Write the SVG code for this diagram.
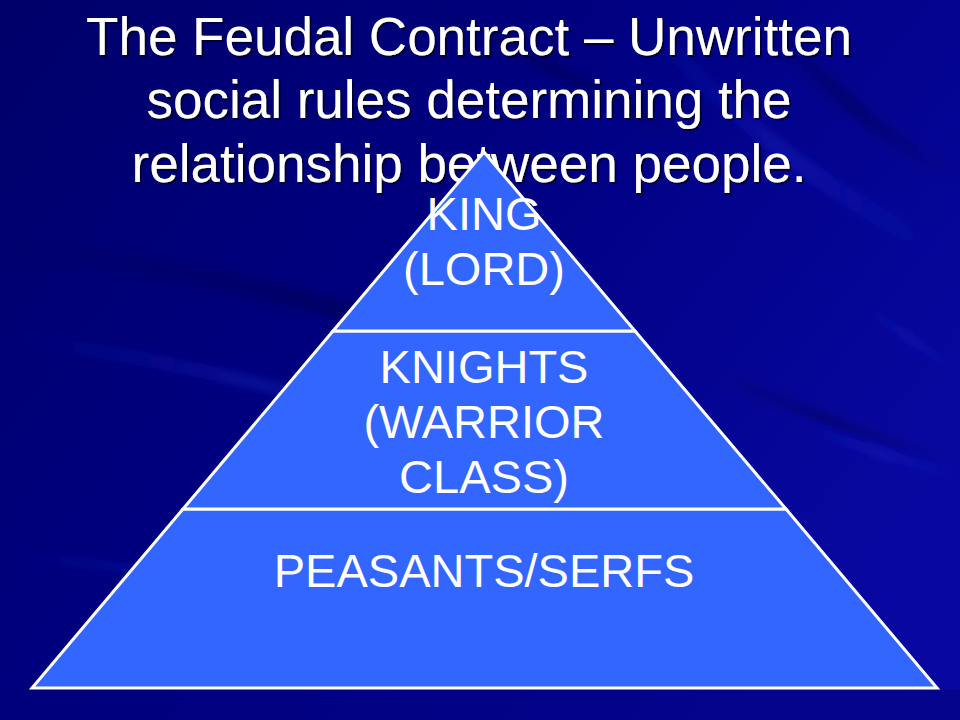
<svg xmlns="http://www.w3.org/2000/svg" width="960" height="720" viewBox="0 0 960 720">
<defs>
<linearGradient id="bg" x1="0" y1="0" x2="1" y2="0.6">
<stop offset="0" stop-color="#00006a"/>
<stop offset="0.5" stop-color="#000082"/>
<stop offset="1" stop-color="#0808a0"/>
</linearGradient>
<linearGradient id="streakL" x1="0" y1="0" x2="1" y2="0">
<stop offset="0" stop-color="#1a2ad0" stop-opacity="0"/>
<stop offset="0.5" stop-color="#1a2ad0" stop-opacity="0.3"/>
<stop offset="1" stop-color="#1a2ad0" stop-opacity="0"/>
</linearGradient>
<linearGradient id="streakD" x1="0" y1="0" x2="1" y2="0">
<stop offset="0" stop-color="#000040" stop-opacity="0"/>
<stop offset="0.5" stop-color="#000040" stop-opacity="0.4"/>
<stop offset="1" stop-color="#000040" stop-opacity="0"/>
</linearGradient>
<filter id="blur" x="-10%" y="-10%" width="120%" height="120%"><feGaussianBlur stdDeviation="4"/></filter>
<filter id="shadow" x="-5%" y="-20%" width="110%" height="140%">
<feDropShadow dx="2" dy="2" stdDeviation="0.6" flood-color="#000022" flood-opacity="0.8"/>
</filter>
<style>
.title{font-family:"Liberation Sans",Arial,sans-serif;font-size:53px;text-anchor:middle;fill:#ffffff;}
.lvl{fill:#3366ff;stroke:#ffffff;stroke-width:3;stroke-linejoin:miter;}
.lbl{font-family:"Liberation Sans",Arial,sans-serif;font-size:47px;fill:#ffffff;text-anchor:middle;}
</style>
</defs>
<g id="background">
<rect x="0" y="0" width="960" height="720" fill="url(#bg)"/>
<g filter="url(#blur)">
<path d="M0,240 Q300,260 700,420 L700,440 Q300,285 0,255 Z" fill="url(#streakD)"/>
<path d="M0,330 Q260,360 520,460 L520,470 Q260,375 0,345 Z" fill="url(#streakL)"/>
<path d="M0,550 Q200,565 420,620 L420,628 Q200,575 0,560 Z" fill="url(#streakL)"/>
<path d="M420,0 Q560,60 700,140 L690,150 Q550,70 400,0 Z" fill="url(#streakD)"/>
<path d="M640,0 Q760,150 960,250 L960,270 Q750,170 620,0 Z" fill="url(#streakL)"/>
<path d="M760,0 Q860,120 960,170 L960,185 Q850,135 740,0 Z" fill="url(#streakD)"/>
<path d="M800,420 Q880,450 960,470 L960,480 Q880,462 800,430 Z" fill="url(#streakL)"/>
<path d="M860,300 Q910,330 960,370 L960,380 Q910,342 860,310 Z" fill="url(#streakL)"/>
<path d="M700,360 Q830,420 960,460 L960,470 Q830,432 700,370 Z" fill="url(#streakD)"/>
</g>
<rect x="0" y="690" width="960" height="30" fill="#00007a" opacity="0.5"/>
</g>
<g id="title" filter="url(#shadow)">
<text class="title" x="469" y="55">The Feudal Contract – Unwritten</text>
<text class="title" x="469" y="118">social rules determining the</text>
<text class="title" x="469" y="182">relationship between people.</text>
</g>
<g id="level-peasants">
<polygon class="lvl" points="183,509 786,509 937,688 32,688"/>
<text class="lbl" x="484" y="587">PEASANTS/SERFS</text>
</g>
<g id="level-knights">
<polygon class="lvl" points="333,331 635,331 786,509 183,509"/>
<text class="lbl" x="484" y="383">KNIGHTS</text>
<text class="lbl" x="484" y="438">(WARRIOR</text>
<text class="lbl" x="484" y="493">CLASS)</text>
</g>
<g id="level-king">
<polygon class="lvl" points="484,152 635,331 333,331"/>
<text class="lbl" x="484" y="230">KING</text>
<text class="lbl" x="484" y="285">(LORD)</text>
</g>
<g id="connectors"/>
</svg>
